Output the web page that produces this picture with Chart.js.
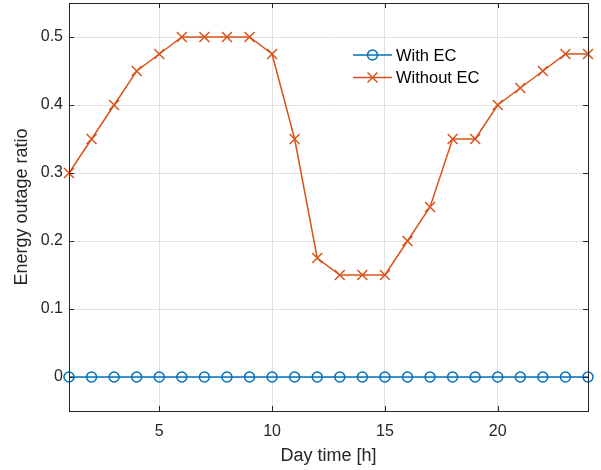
<!DOCTYPE html>
<html>
<head>
<meta charset="utf-8">
<title>Energy outage ratio</title>
<script src="https://cdn.jsdelivr.net/npm/chart.js@4/dist/chart.umd.min.js"></script>
<style>
  html, body { margin: 0; padding: 0; background: #fff; }
  canvas { display: block; }
</style>
</head>
<body>
<canvas id="outageChart" width="601" height="470"></canvas>
<script>
// Timmar på dygnet och andel energibortfall per timme.
const hours = [1, 2, 3, 4, 5, 6, 7, 8, 9, 10, 11, 12, 13, 14, 15, 16, 17, 18, 19, 20, 21, 22, 23, 24];
const withEC = [0, 0, 0, 0, 0, 0, 0, 0, 0, 0, 0, 0, 0, 0, 0, 0, 0, 0, 0, 0, 0, 0, 0, 0];
const withoutEC = [0.3, 0.35, 0.4, 0.45, 0.475, 0.5, 0.5, 0.5, 0.5, 0.475, 0.35, 0.175,
    0.15, 0.15, 0.15, 0.2, 0.25, 0.35, 0.35, 0.4, 0.425, 0.45, 0.475, 0.475];

const xTicks = [5, 10, 15, 20];
const yTicks = [0, 0.1, 0.2, 0.3, 0.4, 0.5];
const yTickLabels = ["0", "0.1", "0.2", "0.3", "0.4", "0.5"];

const seriesNames = ["With EC", "Without EC"];

const FONT = "'Liberation Sans', Arial, Helvetica, sans-serif";
const AXIS_COLOR = "#262626";
const BLUE = "#0072BD";
const ORANGE = "#D95319";

/** Ram runt plottytan och inåtvända tickmarkeringar på alla fyra sidor. */
const framePlugin = {
    id: "frame",
    afterDraw(chart) {
        const { ctx, chartArea: a, scales } = chart;
        const len = 5;
        ctx.save();
        ctx.strokeStyle = AXIS_COLOR;
        ctx.lineWidth = 1;
        ctx.strokeRect(a.left + 0.5, a.top + 0.5, a.right - a.left, a.bottom - a.top);
        ctx.beginPath();
        xTicks.forEach(v => {
            const px = Math.round(scales.x.getPixelForValue(v)) + 0.5;
            ctx.moveTo(px, a.bottom);
            ctx.lineTo(px, a.bottom - len);
            ctx.moveTo(px, a.top);
            ctx.lineTo(px, a.top + len);
        });
        yTicks.forEach(v => {
            const py = Math.round(scales.y.getPixelForValue(v)) + 0.5;
            ctx.moveTo(a.left, py);
            ctx.lineTo(a.left + len, py);
            ctx.moveTo(a.right, py);
            ctx.lineTo(a.right - len, py);
        });
        ctx.stroke();
        ctx.restore();
    }
};

/** Teckenförklaring inne i plottytan: linje med markör och text. */
const legendPlugin = {
    id: "innerLegend",
    afterDatasetsDraw(chart, args, opts) {
        const { ctx } = chart;
        ctx.save();
        chart.data.datasets.forEach((ds, i) => {
            const y = opts.top + i * opts.rowHeight;
            ctx.strokeStyle = ds.borderColor;
            ctx.lineWidth = ds.borderWidth;
            ctx.beginPath();
            ctx.moveTo(opts.left, y);
            ctx.lineTo(opts.left + opts.lineLength, y);
            ctx.stroke();
            ctx.fillStyle = "transparent";
            Chart.helpers.drawPoint(ctx, {
                pointStyle: ds.pointStyle,
                radius: ds.pointRadius,
                borderWidth: ds.borderWidth,
                rotation: 0
            }, opts.left + opts.lineLength / 2, y);
            ctx.fillStyle = "#000";
            ctx.font = "16.5px " + FONT;
            ctx.textAlign = "left";
            ctx.textBaseline = "middle";
            ctx.fillText(ds.label, opts.left + opts.lineLength + 4, y + 1);
        });
        ctx.restore();
    }
};

function toPoints(values) {
    return hours.map((h, i) => ({ x: h, y: values[i] }));
}

function createChart() {
    const ctx = document.getElementById("outageChart");

    new Chart(ctx, {
        type: "line",
        data: {
            datasets: [{
                label: seriesNames[0],
                data: toPoints(withEC),
                borderColor: BLUE,
                backgroundColor: "rgba(0,0,0,0)",
                borderWidth: 1.5,
                pointStyle: "circle",
                pointRadius: 5,
                pointBorderColor: BLUE,
                pointBackgroundColor: "rgba(0,0,0,0)",
                pointBorderWidth: 1.5,
                tension: 0,
                clip: false
            }, {
                label: seriesNames[1],
                data: toPoints(withoutEC),
                borderColor: ORANGE,
                backgroundColor: "rgba(0,0,0,0)",
                borderWidth: 1.5,
                pointStyle: "crossRot",
                pointRadius: 7,
                pointBorderColor: ORANGE,
                pointBorderWidth: 1.5,
                tension: 0,
                clip: false
            }]
        },
        options: {
            responsive: false,
            animation: false,
            devicePixelRatio: 1,
            layout: { autoPadding: false, padding: { top: 3, right: 13, left: 0, bottom: 0 } },
            plugins: {
                legend: { display: false },
                tooltip: { enabled: false },
                innerLegend: { left: 353, top: 55, rowHeight: 22.5, lineLength: 39 }
            },
            scales: {
                x: {
                    type: "linear",
                    min: 1,
                    max: 24,
                    afterBuildTicks: scale => { scale.ticks = xTicks.map(v => ({ value: v })); },
                    afterFit: scale => {
                        scale.height = 59;
                        scale.paddingLeft = 0;
                        scale.paddingRight = 0;
                    },
                    grid: { color: "#e0e0e0", drawTicks: false },
                    border: { display: false },
                    ticks: {
                        color: AXIS_COLOR,
                        font: { family: FONT, size: 16 },
                        padding: 11,
                        maxRotation: 0
                    },
                    title: {
                        display: true,
                        text: "Day time [h]",
                        color: AXIS_COLOR,
                        font: { family: FONT, size: 18 },
                        padding: { top: 0, bottom: 3 }
                    }
                },
                y: {
                    type: "linear",
                    min: -0.05,
                    max: 0.55,
                    afterBuildTicks: scale => { scale.ticks = yTicks.map(v => ({ value: v })); },
                    afterFit: scale => {
                        scale.width = 69;
                        scale.paddingTop = 0;
                        scale.paddingBottom = 0;
                    },
                    grid: { color: "#e0e0e0", drawTicks: false },
                    border: { display: false },
                    ticks: {
                        color: AXIS_COLOR,
                        font: { family: FONT, size: 16 },
                        padding: 6,
                        callback: (value, index) => yTickLabels[index]
                    },
                    title: {
                        display: true,
                        text: "Energy outage ratio",
                        color: AXIS_COLOR,
                        font: { family: FONT, size: 18 },
                        padding: { top: 11, bottom: 0 }
                    }
                }
            }
        },
        plugins: [framePlugin, legendPlugin]
    });
}

createChart();
</script>
</body>
</html>
